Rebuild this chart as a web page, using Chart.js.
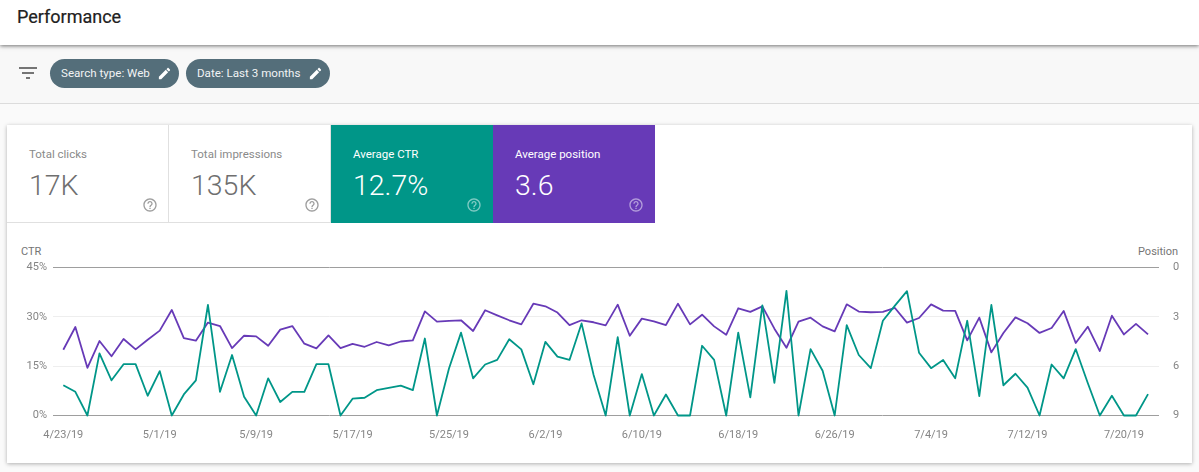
<!DOCTYPE html>
<html>
<head>
<meta charset="utf-8">
<title>Performance</title>
<script src="https://cdn.jsdelivr.net/npm/chart.js@4"></script>
<style>
    html, body { margin: 0; padding: 0; width: 1199px; height: 472px; overflow: hidden; background: #fafafa; font-family: Roboto, sans-serif; }
    .abs { position: absolute; }
    .header { left: 0; top: 0; width: 1199px; height: 45px; background: #fff; box-shadow: 0 1px 4px rgba(0,0,0,.55); z-index: 2; }
    .title { left: 17px; top: 6px; font-size: 18px; line-height: 22px; font-weight: 400; color: #212121; -webkit-text-stroke: .2px #212121; }
    .filterbar { left: 0; top: 45px; width: 1199px; height: 58px; background: #f8f8f8; border-bottom: 1px solid #dcdcdc; }
    .chip { top: 59px; height: 29px; border-radius: 15px; background: #546e7a; color: #f1f3f4; font-size: 11.6px; line-height: 29.5px; box-sizing: border-box; padding-left: 11px; }
    .chip svg { position: absolute; top: 6.5px; width: 15px; height: 15px; fill: #fff; }
    .card { left: 7px; top: 125px; width: 1185px; height: 338px; background: #fff; box-shadow: 0 1px 4px rgba(0,0,0,.3); }
    .tile { top: 125px; height: 98px; box-sizing: border-box; }
    .tile .name { position: absolute; left: 22px; top: 22px; font-size: 11.5px; line-height: 14px; }
    .tile .val { position: absolute; left: 22px; top: 43px; font-size: 28.5px; line-height: 36px; font-weight: 300; }
    .tile svg { position: absolute; left: 135px; top: 72px; width: 16px; height: 16px; }
    .light { background: #fff; color: #6f6f6f; border-right: 1px solid #e0e0e0; border-bottom: 1px solid #e0e0e0; }
    .light .name { color: #8a8a8a; }
    .light svg { fill: #9e9e9e; }
    .teal { background: #009688; color: #fff; }
    .purple { background: #673ab7; color: #fff; }
    .teal svg, .purple svg { fill: rgba(255,255,255,.5); }
    .axisname { top: 245px; font-size: 11px; line-height: 13px; color: #757575; }
    #chart-box { left: 7px; top: 223px; width: 1185px; height: 240px; }
</style>
</head>
<body>
<div class="abs card"></div>
<div class="abs header"></div>
<div class="abs title" style="z-index:3">Performance</div>
<div class="abs filterbar"></div>
<svg class="abs" style="left:16px;top:61px;width:24px;height:24px;fill:#757575" viewBox="0 0 24 24"><path d="M10 18h4v-2h-4v2zM3 6v2h18V6H3zm3 7h12v-2H6v2z"/></svg>
<div class="abs chip" style="left:50px;width:129px">Search type: Web
    <svg style="left:107px" viewBox="0 0 24 24"><path d="M3 17.25V21h3.75L17.81 9.94l-3.75-3.75L3 17.25zM20.71 7.04c.39-.39.39-1.02 0-1.41l-2.34-2.34c-.39-.39-1.02-.39-1.41 0l-1.83 1.83 3.75 3.75 1.83-1.83z"/></svg>
</div>
<div class="abs chip" style="left:186px;width:144px">Date: Last 3 months
    <svg style="left:122px" viewBox="0 0 24 24"><path d="M3 17.25V21h3.75L17.81 9.94l-3.75-3.75L3 17.25zM20.71 7.04c.39-.39.39-1.02 0-1.41l-2.34-2.34c-.39-.39-1.02-.39-1.41 0l-1.83 1.83 3.75 3.75 1.83-1.83z"/></svg>
</div>

<div class="abs tile light" style="left:7px;width:162px"><div class="name">Total clicks</div><div class="val">17K</div>
    <svg viewBox="0 0 24 24"><path d="M11 18h2v-2h-2v2zm1-16C6.48 2 2 6.48 2 12s4.48 10 10 10 10-4.48 10-10S17.52 2 12 2zm0 18c-4.41 0-8-3.59-8-8s3.59-8 8-8 8 3.59 8 8-3.59 8-8 8zm0-14c-2.21 0-4 1.79-4 4h2c0-1.1.9-2 2-2s2 .9 2 2c0 2-3 1.75-3 5h2c0-2.25 3-2.5 3-5 0-2.21-1.79-4-4-4z"/></svg></div>
<div class="abs tile light" style="left:169px;width:162px"><div class="name">Total impressions</div><div class="val">135K</div>
    <svg viewBox="0 0 24 24"><path d="M11 18h2v-2h-2v2zm1-16C6.48 2 2 6.48 2 12s4.48 10 10 10 10-4.48 10-10S17.52 2 12 2zm0 18c-4.41 0-8-3.59-8-8s3.59-8 8-8 8 3.59 8 8-3.59 8-8 8zm0-14c-2.21 0-4 1.79-4 4h2c0-1.1.9-2 2-2s2 .9 2 2c0 2-3 1.75-3 5h2c0-2.25 3-2.5 3-5 0-2.21-1.79-4-4-4z"/></svg></div>
<div class="abs tile teal" style="left:331px;width:162px"><div class="name">Average CTR</div><div class="val">12.7%</div>
    <svg viewBox="0 0 24 24"><path d="M11 18h2v-2h-2v2zm1-16C6.48 2 2 6.48 2 12s4.48 10 10 10 10-4.48 10-10S17.52 2 12 2zm0 18c-4.41 0-8-3.59-8-8s3.59-8 8-8 8 3.59 8 8-3.59 8-8 8zm0-14c-2.21 0-4 1.79-4 4h2c0-1.1.9-2 2-2s2 .9 2 2c0 2-3 1.75-3 5h2c0-2.25 3-2.5 3-5 0-2.21-1.79-4-4-4z"/></svg></div>
<div class="abs tile purple" style="left:493px;width:162px"><div class="name">Average position</div><div class="val">3.6</div>
    <svg viewBox="0 0 24 24"><path d="M11 18h2v-2h-2v2zm1-16C6.48 2 2 6.48 2 12s4.48 10 10 10 10-4.48 10-10S17.52 2 12 2zm0 18c-4.41 0-8-3.59-8-8s3.59-8 8-8 8 3.59 8 8-3.59 8-8 8zm0-14c-2.21 0-4 1.79-4 4h2c0-1.1.9-2 2-2s2 .9 2 2c0 2-3 1.75-3 5h2c0-2.25 3-2.5 3-5 0-2.21-1.79-4-4-4z"/></svg></div>

<div class="abs axisname" style="left:21px">CTR</div>
<div class="abs axisname" style="left:1138px">Position</div>
<div class="abs" id="chart-box"><canvas id="perf-chart"></canvas></div>

<script>
const dates = [
    '4/23/19','4/24/19','4/25/19','4/26/19','4/27/19','4/28/19','4/29/19','4/30/19',
    '5/1/19','5/2/19','5/3/19','5/4/19','5/5/19','5/6/19','5/7/19','5/8/19','5/9/19','5/10/19',
    '5/11/19','5/12/19','5/13/19','5/14/19','5/15/19','5/16/19','5/17/19','5/18/19','5/19/19','5/20/19',
    '5/21/19','5/22/19','5/23/19','5/24/19','5/25/19','5/26/19','5/27/19','5/28/19','5/29/19','5/30/19','5/31/19',
    '6/1/19','6/2/19','6/3/19','6/4/19','6/5/19','6/6/19','6/7/19','6/8/19','6/9/19','6/10/19',
    '6/11/19','6/12/19','6/13/19','6/14/19','6/15/19','6/16/19','6/17/19','6/18/19','6/19/19','6/20/19',
    '6/21/19','6/22/19','6/23/19','6/24/19','6/25/19','6/26/19','6/27/19','6/28/19','6/29/19','6/30/19',
    '7/1/19','7/2/19','7/3/19','7/4/19','7/5/19','7/6/19','7/7/19','7/8/19','7/9/19','7/10/19',
    '7/11/19','7/12/19','7/13/19','7/14/19','7/15/19','7/16/19','7/17/19','7/18/19','7/19/19','7/20/19','7/21/19','7/22/19'
];

// % per day
const ctrValues = [
    9.2, 7.2, 0, 18.9, 10.7, 15.6, 15.6, 6.0, 13.5, 0,
    6.4, 10.7, 33.6, 7.2, 18.4, 5.7, 0, 11.3, 4.1, 7.2,
    7.2, 15.6, 15.6, 0, 5.1, 5.4, 7.7, 8.4, 9.1, 7.7,
    23.4, 0, 14.3, 25.2, 11.3, 15.5, 16.9, 23.2, 20.1, 9.5,
    22.4, 17.9, 16.9, 28.0, 12.3, 0, 23.8, 0, 12.6, 0,
    6.4, 0, 0, 21.2, 16.9, 0, 25.2, 5.5, 33.5, 9.9,
    37.9, 0, 20.2, 13.6, 0, 27.5, 18.4, 14.4, 28.8, 33.4,
    37.8, 19.1, 14.4, 16.9, 11.3, 28.8, 5.9, 33.6, 9.2, 12.7,
    8.5, 0, 15.5, 11.3, 20.2, 9.9, 0, 6.0, 0, 0, 6.5
];

const positionValues = [
    5.0, 3.62, 6.1, 4.47, 5.4, 4.35, 4.98, 4.39, 3.84, 2.58,
    4.29, 4.45, 3.35, 3.56, 4.9, 4.15, 4.19, 4.76, 3.78, 3.56,
    4.63, 4.92, 4.13, 4.9, 4.65, 4.82, 4.53, 4.74, 4.5, 4.43,
    2.67, 3.29, 3.25, 3.21, 3.86, 2.6, 2.91, 3.21, 3.46, 2.2,
    2.36, 2.74, 3.5, 3.21, 3.33, 3.52, 2.26, 4.15, 3.11, 3.27,
    3.5, 2.2, 3.46, 2.87, 3.58, 4.09, 2.48, 2.7, 2.36, 3.72,
    4.88, 3.29, 3.05, 3.58, 3.88, 2.24, 2.68, 2.72, 2.7, 2.46,
    3.35, 3.07, 2.24, 2.62, 2.64, 4.43, 3.05, 5.16, 3.98, 3.03,
    3.39, 3.98, 3.68, 2.64, 4.59, 3.6, 5.08, 2.93, 4.07, 3.43, 4.07
];

const TICK_COLOR = '#858585';
const TICK_FONT = { family: 'Roboto', size: 11 };

// grey rules on the top and bottom of the plot, pale ones between
function gridColor(ctx) {
    const last = ctx.scale.ticks.length - 1;
    return ctx.index === 0 || ctx.index === last ? '#9e9e9e' : '#eeeeee';
}

new Chart(document.getElementById('perf-chart'), {
    type: 'line',
    data: {
        datasets: [
            {
                label: 'CTR',
                data: ctrValues.map((v, i) => ({ x: i, y: v })),
                yAxisID: 'y',
                borderColor: '#009688',
                borderWidth: 1.8,
                borderJoinStyle: 'round',
                pointRadius: 0,
                tension: 0,
                clip: 2
            },
            {
                label: 'Position',
                data: positionValues.map((v, i) => ({ x: i, y: v })),
                yAxisID: 'y1',
                borderColor: '#673ab7',
                borderWidth: 1.8,
                borderJoinStyle: 'round',
                pointRadius: 0,
                tension: 0,
                clip: 2
            }
        ]
    },
    options: {
        responsive: true,
        maintainAspectRatio: false,
        animation: false,
        layout: { padding: { top: 44.5, left: 0, right: 0, bottom: 0 } },
        plugins: { legend: { display: false }, tooltip: { enabled: false } },
        scales: {
            x: {
                type: 'linear',
                min: -0.855,
                max: 90.91,
                grid: { display: false },
                border: { display: false },
                afterBuildTicks: axis => {
                    // one label every 8 days starting from the first date
                    axis.ticks = dates.map((d, i) => ({ value: i })).filter(t => t.value % 8 === 0);
                },
                afterFit: axis => { axis.height = 47.5; },
                ticks: {
                    autoSkip: false,
                    maxRotation: 0,
                    padding: 5,
                    color: TICK_COLOR,
                    font: TICK_FONT,
                    callback: value => dates[value]
                }
            },
            y: {
                position: 'left',
                min: 0,
                max: 45,
                afterFit: axis => { axis.width = 46; },
                grid: { color: gridColor, drawTicks: false },
                border: { display: false },
                ticks: {
                    stepSize: 15,
                    padding: 6,
                    color: TICK_COLOR,
                    font: TICK_FONT,
                    callback: value => value + '%'
                }
            },
            y1: {
                position: 'right',
                reverse: true,
                min: 0,
                max: 9,
                afterFit: axis => { axis.width = 33; },
                grid: { display: false },
                border: { display: false },
                ticks: {
                    stepSize: 3,
                    padding: 6,
                    color: TICK_COLOR,
                    font: TICK_FONT
                }
            }
        }
    }
});
</script>
</body>
</html>
